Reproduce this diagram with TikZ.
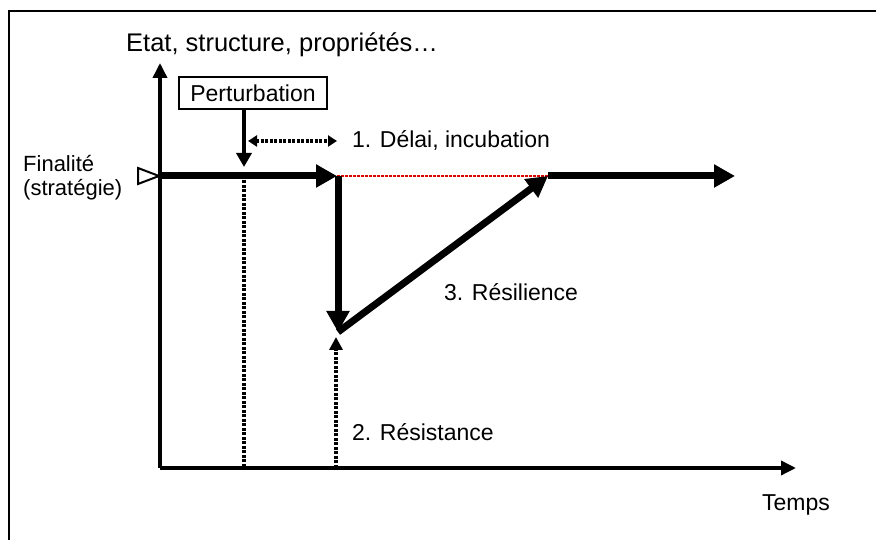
\documentclass[tikz,border=0pt]{standalone}
\usepackage{fontspec}
\setmainfont{Liberation Sans}
\usetikzlibrary{arrows.meta}

\tikzset{
	axe/.style={line width=3.5pt, -{Triangle[length=15pt,width=14pt]}},
	fort/.style={line width=7pt, -{Triangle[length=21pt,width=22pt]}},
	pointille/.style={line width=3.5pt, dash pattern=on 3pt off 1.5pt},
	etiquette/.style={font=\fontsize{23}{25}\selectfont, inner sep=0pt}
}

\begin{document}
\begin{tikzpicture}[x=1pt, y=1pt]
	\clip (0,0) rectangle (876,540);

	\coordinate (o) at (160,72);
	\coordinate (f) at (160,364);
	\coordinate (p) at (244,373);
	\coordinate (q) at (244,364);
	\coordinate (a) at (337,364);
	\coordinate (b) at (338,208);
	\coordinate (c) at (548,364);
	\coordinate (e) at (735,364);
	\coordinate (r) at (336,203);

	\draw [line width=2pt] (9,-10) -- (9,529) -- (890,529);

	\draw [axe] (o) -- (160,477);
	\draw [axe] (o) -- (796,72);

	\node (titre) [etiquette, font=\fontsize{25.5}{28}\selectfont, anchor=west] at (126,495)
		{Etat, structure, propriétés…};
	\node (temps) [etiquette] at (796,35) {Temps};
	\node (finalite) [etiquette, font=\fontsize{22}{24}\selectfont, align=left, anchor=west]
		at (23,362) {Finalité\\(stratégie)};

	\draw [line width=2pt, fill=white] (138,372) -- (159,364) -- (138,356) -- cycle;

	\node (pert) [etiquette, draw, line width=1.5pt, minimum width=148pt, minimum height=32pt]
		at (253,447) {Perturbation};
	\draw [line width=3.5pt, -{Triangle[length=14pt,width=15pt]}] (pert.south -| p) -- (p);

	\draw [pointille, {Triangle[length=9pt,width=11pt]}-{Triangle[length=9pt,width=11pt]}]
		(248,399) -- (337,399);
	\node (delai) [etiquette, anchor=west] at (352,399) {1. Délai, incubation};

	\draw [pointille] (q) -- (q |- o);

	\draw [red!85!black, line width=2.5pt, dash pattern=on 3pt off 1pt] (a) -- (c);

	\draw [fort] (f) -- (a);
	\draw [fort] (a -| b) -- (b);
	\draw [fort] (b) -- (c);
	\draw [fort] (c) -- (e);

	\node (resilience) [etiquette, anchor=west] at (444,248) {3. Résilience};

	\draw [pointille, -{Triangle[length=13pt,width=13pt]}] (r |- o) -- (r);
	\node (resistance) [etiquette, anchor=west] at (352,108) {2. Résistance};
\end{tikzpicture}
\end{document}
